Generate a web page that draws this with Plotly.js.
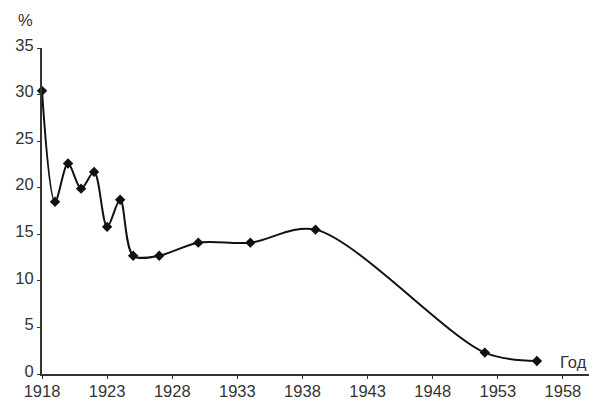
<!DOCTYPE html>
<html>
<head>
<meta charset="utf-8">
<script src="https://cdn.plot.ly/plotly-3.0.1.min.js"></script>
<style>html,body{margin:0;padding:0;background:#fff;}#chart{width:603px;height:411px;}</style>
</head>
<body>
<div id="chart"></div>
<script>
const years = [1918, 1919, 1920, 1921, 1922, 1923, 1924, 1925, 1927, 1930, 1934, 1939, 1952, 1956];
const percent = [30.4, 18.5, 22.6, 19.9, 21.7, 15.8, 18.7, 12.7, 12.7, 14.1, 14.1, 15.5, 2.3, 1.4];
const xTicks = [1918, 1923, 1928, 1933, 1938, 1943, 1948, 1953, 1958];
const yTicks = [0, 5, 10, 15, 20, 25, 30, 35];

const font = {family: '"Liberation Sans", Arial, sans-serif', size: 16.5, color: '#333'};

Plotly.newPlot('chart', [{
  x: years, y: percent, type: 'scatter', mode: 'lines+markers',
  line: {color: '#111', width: 2, shape: 'spline', smoothing: 0.9},
  marker: {symbol: 'diamond', size: 8, color: '#111'},
  cliponaxis: false, hoverinfo: 'skip'
}], {
  width: 603, height: 411,
  margin: {l: 42, r: 14, t: 48, b: 37},
  paper_bgcolor: '#fff', plot_bgcolor: '#fff',
  showlegend: false,
  font: font,
  xaxis: {range: [1918, 1960], tickvals: xTicks, ticktext: xTicks.map(String),
    showgrid: false, zeroline: false, showline: true, linecolor: '#333', linewidth: 2,
    ticks: 'outside', ticklen: 3, tickwidth: 1, tickcolor: '#333', tickfont: font,
    ticklabelstandoff: -2},
  yaxis: {range: [0, 35], tickvals: yTicks, ticktext: yTicks.map(String),
    showgrid: false, zeroline: false, showline: true, linecolor: '#333', linewidth: 2,
    ticks: 'outside', ticklen: 3, tickwidth: 1, tickcolor: '#333', tickfont: font,
    ticklabelshift: -3},
  annotations: [
    {text: '%', xref: 'paper', yref: 'paper', x: -0.03, y: 1.0, yshift: 28, xanchor: 'center', yanchor: 'middle', showarrow: false, font: font},
    {text: 'Год', xref: 'paper', yref: 'paper', x: 1.0, y: 0, yshift: 12, xanchor: 'right', yanchor: 'middle', showarrow: false, font: font}
  ]
}, {displayModeBar: false, staticPlot: true});
</script>
</body>
</html>
